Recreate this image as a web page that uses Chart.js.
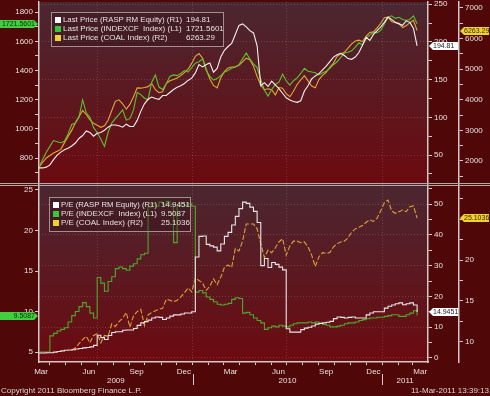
<!DOCTYPE html>
<html>
<head>
<meta charset="utf-8">
<script src="https://cdn.jsdelivr.net/npm/chart.js@4.4.1/dist/chart.umd.min.js"></script>
<style>
  html, body { margin: 0; padding: 0; background: #500707; }
  #wrap { position: relative; width: 490px; height: 396px; overflow: hidden; background: #500707; }
  canvas { position: absolute; left: 0; }
  #topChart { top: 0; }
  #botChart { top: 184px; }
  .sep { position: absolute; left: 0; width: 490px; height: 1px; background: #b4a9a9; }
  .foot { position: absolute; top: 386px; font: 8px 'Liberation Sans', Arial, sans-serif; color: #ddd4d4; white-space: nowrap; }
</style>
</head>
<body>
<div id="wrap">
  <canvas id="topChart" width="490" height="184"></canvas>
  <canvas id="botChart" width="490" height="212"></canvas>
  <div class="sep" style="top:183px"></div>
  <div class="sep" style="top:185px"></div>
  <div class="foot" style="left:1px">Copyright 2011 Bloomberg Finance L.P.</div>
  <div class="foot" style="right:1px">11-Mar-2011 13:39:13</div>
</div>
<script>
const outerColor = '#500707';
const plotTop = '#4b2731';
const plotBottom = '#6c0a10';
const gridDot = 'rgba(255, 230, 230, 0.17)';
const axisColor = '#d2c9c9';
const textColor = '#e8e0e0';
const fontFamily = "'Liberation Sans', Arial, sans-serif";
const font8 = { family: fontFamily, size: 8 };

// weekly closes, first point 11-Mar-2009 (days counted from 1-Jan-2009)
const firstDay = 69;
const stepDays = 7;
const xMin = 69;
const xMax = 818;

const raspPrice = [
  33, 33, 34, 37, 44, 50, 54, 57, 59, 62,
  66, 72, 76, 82, 80, 75, 79, 80, 83, 87,
  90, 90, 89, 87, 91, 88, 88, 96, 108, 118,
  124, 127, 125, 124, 129, 129, 133, 137, 140, 142,
  145, 149, 152, 159, 170, 167, 170, 172, 160, 165,
  180, 189, 194, 198, 210, 222, 224, 220, 215, 212,
  195, 142, 146, 141, 148, 143, 138, 132, 126, 123,
  121, 120, 122, 135, 142, 151, 155, 158, 163, 168,
  174, 180, 183, 185, 182, 178, 177, 180, 186, 196,
  206, 202, 210, 215, 220, 226, 233, 230, 226, 224,
  222, 228, 226, 218, 194.81
];
const indexcfPrice = [
  738, 790, 840, 880, 920, 912, 905, 915, 965, 1030,
  1040, 1080, 1200, 1110, 1080, 1010, 975, 930, 880, 975,
  1040, 1070, 1100, 1130, 1060, 1070, 1130, 1250, 1235, 1210,
  1200, 1320, 1370, 1287, 1270, 1310, 1360, 1370, 1365, 1380,
  1400, 1390, 1420, 1450, 1460, 1480, 1400, 1360, 1335, 1345,
  1365, 1390, 1400, 1415, 1425, 1440, 1480, 1520, 1480, 1445,
  1420, 1340, 1265, 1225, 1270, 1305, 1320, 1375, 1330, 1300,
  1330, 1350, 1380, 1415, 1395, 1390, 1385, 1370, 1385, 1395,
  1415, 1440, 1460, 1490, 1520, 1525, 1535, 1560, 1590, 1575,
  1620, 1645, 1660, 1660, 1675, 1720, 1765, 1775, 1758, 1765,
  1750, 1745, 1750, 1775, 1721.5601
];
const coalPrice = [
  1800, 1950, 2100, 2180, 2260, 2320, 2380, 2600, 2800, 3000,
  3250, 3450, 3650, 3520, 3350, 3230, 3170, 3100, 3150, 3330,
  3640, 3950, 4000, 3870, 3700, 3850, 4100, 4390, 4380, 4400,
  4430, 4540, 4330, 4230, 4260, 4530, 4620, 4660, 4710, 4790,
  4890, 5000, 5190, 5420, 5510, 5360, 5000, 4680, 4470, 4390,
  4720, 4920, 5040, 5070, 5070, 5130, 5240, 5360, 5310, 5100,
  4760, 4480, 4330, 4360, 4330, 4160, 4400, 4380, 4200, 4100,
  4280, 4500, 4650, 4790, 4620, 4450, 4390, 4660, 4800, 4900,
  5060, 5200, 5420, 5500, 5550, 5690, 5830, 5920, 5950, 5900,
  6080, 6200, 6220, 6350, 6500, 6680, 6700, 6560, 6520, 6500,
  6360, 6420, 6520, 6600, 6263.29
];

const raspPE = [
  1.6, 1.6, 1.7, 1.7, 1.9, 2.1, 2.3, 2.5, 2.6, 2.7,
  2.9, 3.1, 3.3, 3.4, 3.6, 4.1, 7.4, 6.6, 6.0, 7.3,
  8.3, 8.5, 8.5, 9.0, 9.1, 9.1, 9.6, 10.6, 11.4, 11.8,
  12.3, 13.0, 13.3, 13.2, 12.5, 13.0, 13.6, 14.0, 14.0, 14.3,
  14.6, 14.6, 15.0, 32.8, 39.5, 39.6, 36.9, 36.4, 36.0, 34.8,
  37.0, 39.5, 40.8, 43.2, 46.0, 48.5, 50.6, 50.2, 49.0, 47.6,
  44.0, 30.0, 32.3, 29.4, 31.0, 30.4, 29.5, 28.6, 9.5, 8.4,
  8.4, 8.4, 9.2, 9.7, 10.0, 10.4, 11.0, 11.2, 11.4, 11.6,
  11.9, 12.8, 13.3, 13.2, 13.0, 13.2, 13.3, 13.0, 13.0, 13.0,
  14.0, 14.6, 15.0, 15.0, 15.0, 16.2, 16.8, 17.2, 17.6, 17.9,
  17.3, 17.6, 17.9, 17.2, 14.9451
];
const indexcfPE = [
  5.0, 5.0, 5.0, 7.0, 7.3, 7.6, 7.8, 8.0, 8.7, 9.5,
  10.0, 10.6, 11.1, 10.6, 9.8, 9.2, 14.2, 13.5, 12.5, 13.7,
  14.3, 15.3, 15.5, 15.3, 15.1, 15.6, 15.9, 16.5, 17.0, 17.2,
  22.9, 23.3, 23.0, 23.5, 23.2, 23.6, 23.2, 18.5, 23.0, 23.4,
  23.1, 23.3, 23.0, 12.4, 12.6, 12.3, 11.8, 11.5, 11.2, 10.9,
  10.8, 10.9, 11.0, 11.5, 11.7, 11.6, 9.8, 9.9, 9.6, 9.2,
  8.9, 8.6, 7.8, 8.0, 8.2, 8.1, 8.3, 8.2, 8.1, 8.3,
  8.5, 8.6, 8.6, 8.6, 8.7, 8.6, 8.7, 8.6, 8.4, 8.3,
  8.1, 8.1, 8.2, 8.3, 8.5, 8.6, 8.6, 8.7, 8.9, 9.0,
  9.1, 9.2, 9.2, 9.3, 9.3, 9.4, 9.5, 9.6, 9.6, 9.4,
  9.4, 9.6, 9.8, 10.1, 9.5087
];
const coalPE = [
  null, null, null, null, null, null, null, null, null, 9.0,
  9.3, 9.8, 10.3, 10.7, 9.9, 10.8, 11.0, 9.9, 10.8, 10.7,
  12.2, 11.9, 12.5, 12.9, 13.6, 11.8, 13.2, 13.7, 14.0, 12.0,
  13.3, 13.6, 13.8, 14.0, 14.1, 15.2, 15.1, 14.9, 15.1, 15.5,
  16.0, 16.6, 16.1, 17.8, 17.5, 17.2, 16.3, 16.8, 17.7, 17.0,
  17.9, 19.1, 19.4, 19.1, 21.4, 21.1, 22.3, 24.4, 24.4, 24.4,
  23.8, 22.0, 20.3, 21.2, 20.9, 21.5, 22.2, 22.6, 20.6, 21.7,
  22.3, 22.3, 22.1, 22.2, 21.6, 20.6, 19.2, 20.4, 20.9, 20.8,
  20.9, 21.6, 22.0, 22.2, 22.3, 22.7, 23.4, 23.8, 24.0, 24.2,
  24.6, 24.9, 24.7, 25.1, 26.0, 27.0, 27.3, 26.0, 25.7, 25.9,
  26.1, 25.9, 26.5, 26.6, 25.1036
];

// axis ticks
const topLeftTicks = [700, 800, 900, 1000, 1100, 1200, 1300, 1400, 1500, 1600, 1700, 1800];
const topLeftLabels = [800, 1000, 1200, 1400, 1600, 1800];
const topR1Ticks = [25, 50, 75, 100, 125, 150, 175, 200, 225, 250];
const topR1Labels = [50, 100, 150, 200, 250];
const topR2Ticks = [1500, 2000, 2500, 3000, 3500, 4000, 4500, 5000, 5500, 6000, 6500, 7000];
const topR2Labels = [2000, 3000, 4000, 5000, 6000, 7000];
const botLeftTicks = [5, 10, 15, 20, 25];
const botLeftLabels = [5, 10, 15, 20, 25];
const botR1Ticks = [0, 5, 10, 15, 20, 25, 30, 35, 40, 45, 50, 55];
const botR1Labels = [0, 10, 20, 30, 40, 50];
const botR2Ticks = [10, 12.5, 15, 17.5, 20, 22.5, 25, 27.5];
const botR2Labels = [10, 15, 20];

const monthStartDays = [90, 120, 151, 181, 212, 243, 273, 304, 334, 365, 396, 424,
  455, 485, 516, 546, 577, 608, 638, 669, 699, 730, 761, 789];
const monthLabelDays = [73, 165, 257, 348, 438, 530, 622, 713, 803];
const monthLabels = ['Mar', 'Jun', 'Sep', 'Dec', 'Mar', 'Jun', 'Sep', 'Dec', 'Mar'];
const gridDays = [181, 365, 546, 730];
const yearLabels = ['2009', '2010', '2011'];
const yearStartDays = [0, 365, 730];

const points = vals => vals.map((v, i) => ({ x: firstDay + i * stepDays, y: v }));

function makeLine(label, values, color, axis, swatch, tag, opts = {}) {
  return {
    label,
    data: points(values),
    yAxisID: axis,
    borderColor: color,
    borderWidth: opts.width || 1.1,
    borderDash: opts.dashed ? [5, 2] : [],
    stepped: opts.stepped || false,
    pointRadius: 0,
    tension: 0,
    fill: false,
    spanGaps: false,
    swatch,
    tag,
  };
}

function yAxis(position, weight, min, max, tickValues, labelValues, width, gridOn) {
  return {
    type: 'linear',
    position,
    weight,
    min,
    max,
    afterBuildTicks: s => { s.ticks = tickValues.map(v => ({ value: v })); },
    afterFit: s => { s.width = width; s.paddingTop = 0; s.paddingBottom = 0; },
    ticks: {
      color: textColor,
      font: font8,
      padding: 2,
      autoSkip: false,
      callback: v => labelValues.includes(v) ? String(v) : '',
    },
    grid: {
      drawOnChartArea: gridOn,
      color: c => (c.tick && labelValues.includes(c.tick.value)) ? gridDot : 'transparent',
      tickColor: axisColor,
      tickLength: 4,
      lineWidth: 1,
    },
    border: { color: axisColor, width: 1.5, dash: [1, 2] },
  };
}

const panelBackground = {
  id: 'panelBackground',
  beforeDraw(chart) {
    const { ctx, chartArea: a, width, height } = chart;
    ctx.save();
    ctx.fillStyle = outerColor;
    ctx.fillRect(0, 0, width, height);
    const g = ctx.createLinearGradient(0, a.top, 0, a.bottom);
    g.addColorStop(0, plotTop);
    g.addColorStop(1, plotBottom);
    ctx.fillStyle = g;
    ctx.fillRect(a.left, a.top, a.right - a.left, a.bottom - a.top);
    ctx.restore();
  },
};

const boxLegend = {
  id: 'boxLegend',
  afterDatasetsDraw(chart, args, opts) {
    const ctx = chart.ctx;
    ctx.save();
    ctx.fillStyle = 'rgba(45, 18, 24, 0.35)';
    ctx.fillRect(opts.left, opts.top, opts.width, opts.height);
    ctx.strokeStyle = '#a78e8e';
    ctx.lineWidth = 1;
    ctx.strokeRect(opts.left + 0.5, opts.top + 0.5, opts.width, opts.height);
    ctx.font = '8px ' + fontFamily;
    ctx.textBaseline = 'middle';
    const textX = opts.left + 12;
    chart.data.datasets.forEach((ds, k) => {
      const y = opts.top + 8 + k * 9;
      ctx.fillStyle = ds.swatch;
      ctx.fillRect(opts.left + 4, y - 3, 6, 6);
      ctx.fillStyle = textColor;
      ctx.fillText(ds.label, textX, y, opts.valueX - textX - 4);
      ctx.fillText(String(ds.data[ds.data.length - 1].y), opts.valueX, y);
    });
    ctx.restore();
  },
};

const valueTags = {
  id: 'valueTags',
  afterDraw(chart) {
    const ctx = chart.ctx;
    chart.data.datasets.forEach(ds => {
      const last = ds.data[ds.data.length - 1];
      const s = chart.scales[ds.yAxisID];
      const y = Math.round(s.getPixelForValue(last.y));
      const h = 8;
      ctx.save();
      ctx.fillStyle = ds.tag.bg;
      ctx.beginPath();
      let tx;
      if (s.position === 'left') {
        const r = s.right - 1;
        ctx.moveTo(0, y - h / 2);
        ctx.lineTo(r - 4, y - h / 2);
        ctx.lineTo(r, y);
        ctx.lineTo(r - 4, y + h / 2);
        ctx.lineTo(0, y + h / 2);
        ctx.textAlign = 'right';
        tx = r - 3;
      } else {
        const l = s.left + 1;
        const r = s.right - 1;
        ctx.moveTo(l, y);
        ctx.lineTo(l + 4, y - h / 2);
        ctx.lineTo(r, y - h / 2);
        ctx.lineTo(r, y + h / 2);
        ctx.lineTo(l + 4, y + h / 2);
        ctx.textAlign = 'left';
        tx = l + 4;
      }
      ctx.closePath();
      ctx.fill();
      ctx.fillStyle = ds.tag.fg;
      ctx.font = '7px ' + fontFamily;
      ctx.textBaseline = 'middle';
      ctx.fillText(String(last.y), tx, y + 0.5);
      ctx.restore();
    });
  },
};

const yearRow = {
  id: 'yearRow',
  afterDraw(chart) {
    const x = chart.scales.x;
    const a = chart.chartArea;
    const ctx = chart.ctx;
    ctx.save();
    ctx.font = '8px ' + fontFamily;
    ctx.fillStyle = textColor;
    ctx.textAlign = 'center';
    ctx.textBaseline = 'middle';
    yearLabels.forEach((t, k) => {
      const from = Math.max(yearStartDays[k], x.min);
      const to = k + 1 < yearStartDays.length ? Math.min(yearStartDays[k + 1], x.max) : x.max;
      ctx.fillText(t, x.getPixelForValue((from + to) / 2), a.bottom + 19);
    });
    ctx.strokeStyle = axisColor;
    ctx.lineWidth = 1;
    yearStartDays.slice(1).forEach(d => {
      const px = Math.round(x.getPixelForValue(d)) + 0.5;
      ctx.beginPath();
      ctx.moveTo(px, a.bottom + 12);
      ctx.lineTo(px, a.bottom + 23);
      ctx.stroke();
    });
    ctx.restore();
  },
};

const baseOptions = {
  responsive: false,
  animation: false,
  events: [],
};

new Chart(document.getElementById('topChart'), {
  type: 'line',
  data: {
    datasets: [
      makeLine('Last Price (RASP RM Equity) (R1)', raspPrice, '#f2f0f0', 'r1', '#ffffff', { bg: '#ffffff', fg: '#222222' }),
      makeLine('Last Price (INDEXCF  Index) (L1)', indexcfPrice, '#5cc22e', 'l1', '#38c838', { bg: '#3fcf3f', fg: '#0e2a0e' }),
      makeLine('Last Price (COAL Index) (R2)', coalPrice, '#e2a83a', 'r2', '#ecd230', { bg: '#f2d22e', fg: '#3a2a00' }),
    ],
  },
  options: {
    ...baseOptions,
    layout: { padding: { top: 2, bottom: 1, left: 0, right: 0 } },
    plugins: {
      legend: { display: false },
      tooltip: { enabled: false },
      boxLegend: { left: 51, top: 12, width: 172, height: 34, valueX: 186 },
    },
    scales: {
      x: {
        type: 'linear',
        min: xMin,
        max: xMax,
        afterBuildTicks: s => { s.ticks = gridDays.map(v => ({ value: v })); },
        afterFit: s => { s.height = 0; s.paddingLeft = 0; s.paddingRight = 0; },
        ticks: { display: false },
        grid: { color: gridDot, drawTicks: false },
        border: { display: false, dash: [1, 2] },
      },
      l1: yAxis('left', 0, 629, 1870, topLeftTicks, topLeftLabels, 39, false),
      r1: yAxis('right', 0, 13, 253, topR1Ticks, topR1Labels, 31, true),
      r2: yAxis('right', 1, 1281, 7196, topR2Ticks, topR2Labels, 31, false),
    },
  },
  plugins: [panelBackground, boxLegend, valueTags],
});

const bottomTickDays = [...monthStartDays, ...monthLabelDays].sort((a, b) => a - b);

new Chart(document.getElementById('botChart'), {
  type: 'line',
  data: {
    datasets: [
      makeLine('P/E (RASP RM Equity) (R1)', raspPE, '#e8e6e6', 'r1', '#ffffff', { bg: '#ffffff', fg: '#222222' }, { stepped: true }),
      makeLine('P/E (INDEXCF  Index) (L1)', indexcfPE, '#4fa82c', 'l1', '#38c838', { bg: '#3fcf3f', fg: '#0e2a0e' }, { stepped: true }),
      makeLine('P/E (COAL Index) (R2)', coalPE, '#d9a23a', 'r2', '#ecd230', { bg: '#f2d22e', fg: '#3a2a00' }, { dashed: true }),
    ],
  },
  options: {
    ...baseOptions,
    layout: { padding: { top: 0, bottom: 0, left: 0, right: 0 } },
    plugins: {
      legend: { display: false },
      tooltip: { enabled: false },
      boxLegend: { left: 49, top: 13, width: 141, height: 34, valueX: 161 },
    },
    scales: {
      x: {
        type: 'linear',
        min: xMin,
        max: xMax,
        afterBuildTicks: s => { s.ticks = bottomTickDays.map(v => ({ value: v })); },
        afterFit: s => { s.height = 34; s.paddingLeft = 0; s.paddingRight = 0; },
        ticks: {
          autoSkip: false,
          maxRotation: 0,
          color: textColor,
          font: font8,
          padding: 2,
          callback: v => {
            const k = monthLabelDays.indexOf(v);
            return k >= 0 ? monthLabels[k] : '';
          },
        },
        grid: {
          color: c => (c.tick && gridDays.includes(c.tick.value)) ? gridDot : 'transparent',
          tickColor: c => (c.tick && monthStartDays.includes(c.tick.value)) ? axisColor : 'transparent',
          tickLength: 3,
        },
        border: { color: axisColor, width: 1.5, dash: [1, 2] },
      },
      l1: yAxis('left', 0, 3.77, 25.74, botLeftTicks, botLeftLabels, 39, false),
      r1: yAxis('right', 0, -1.3, 56.5, botR1Ticks, botR1Labels, 31, true),
      r2: yAxis('right', 1, 7.56, 29.27, botR2Ticks, botR2Labels, 31, false),
    },
  },
  plugins: [panelBackground, boxLegend, valueTags, yearRow],
});
</script>
</body>
</html>
